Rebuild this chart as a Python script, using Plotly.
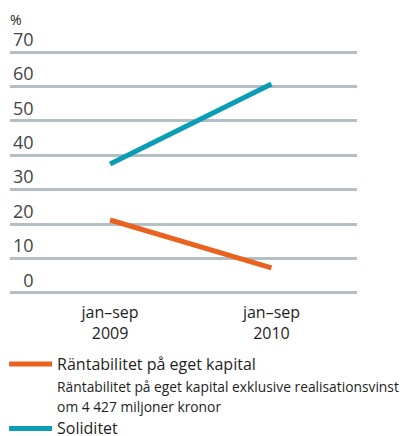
import plotly.graph_objects as go

categories = ["jan–sep<br>2009", "jan–sep<br>2010"]
rantabilitet = [21.2, 7.3]
soliditet = [37.5, 60.7]
y_ticks = [0, 10, 20, 30, 40, 50, 60, 70]
y_tick_labels = ["\u20070", "10", "20", "30", "40", "50", "60", "70"]
series_names = ["Räntabilitet på eget kapital",
                "Räntabilitet på eget kapital exklusive realisationsvinst<br>om 4 427 miljoner kronor",
                "Soliditet"]

ORANGE = "#EA6220"
BLUE = "#0A9DB5"
GRID = "#B3BFC5"
TEXT = "#1e1e1e"
FONT = "Open Sans"


def big(s):
    return '<span style="font-size:16px">' + s + '</span>'


def small(s):
    return '<span style="font-size:13.8px">' + s + '</span>'


fig = go.Figure()
fig.add_trace(go.Scatter(x=categories, y=rantabilitet, mode="lines", name=big(series_names[0]),
                         line=dict(color=ORANGE, width=5), legendrank=1))
fig.add_trace(go.Scatter(x=[None], y=[None], mode="lines", name=small(series_names[1]),
                         line=dict(color="rgba(0,0,0,0)", width=0), legendrank=2))
fig.add_trace(go.Scatter(x=categories, y=soliditet, mode="lines", name=big(series_names[2]),
                         line=dict(color=BLUE, width=5), legendrank=3))

fig.update_layout(
    width=414, height=436,
    margin=dict(l=10, r=57, t=50, b=141, autoexpand=False),
    paper_bgcolor="white", plot_bgcolor="white",
    font=dict(family=FONT, color=TEXT, size=18),
    showlegend=True,
    legend=dict(x=-0.017, y=-0.215, xanchor="left", yanchor="top", orientation="v",
                font=dict(size=15, family=FONT, color=TEXT), traceorder="normal",
                bgcolor="rgba(0,0,0,0)", tracegroupgap=0, itemwidth=43),
    xaxis=dict(type="category", range=[-0.62, 1.53], showgrid=False, zeroline=False,
               showline=False, ticks="", tickfont=dict(size=16), automargin=False,
               ticklabelstandoff=6),
    yaxis=dict(range=[-0.6, 70.6], tickvals=y_ticks, ticktext=y_tick_labels,
               showgrid=True, gridcolor=GRID, gridwidth=2.5,
               zeroline=False, showline=False, ticks="", ticklabelposition="inside top",
               ticklabeloverflow="allow", tickfont=dict(size=18), automargin=False),
    annotations=[dict(text="%", x=0, y=1, xref="paper", yref="paper", xanchor="left",
                      yanchor="bottom", yshift=19, xshift=-2, showarrow=False,
                      font=dict(size=14, family=FONT, color=TEXT))],
)

fig.write_html("out.html", config={"displayModeBar": False},
               post_script="document.body.style.margin='0';")
